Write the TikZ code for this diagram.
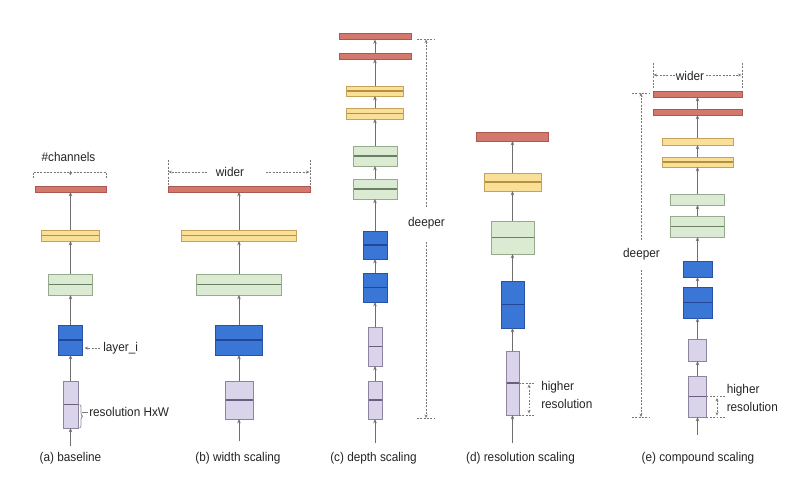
\documentclass[tikz,border=0pt]{standalone}
\usepackage{fontspec}
\setmainfont{Liberation Sans}[FakeStretch=0.93]
\usetikzlibrary{arrows.meta,fit,decorations.pathreplacing}

\definecolor{redF}{RGB}{210,120,108}
\definecolor{redD}{RGB}{172,88,78}
\definecolor{yelF}{RGB}{250,223,152}
\definecolor{yelD}{RGB}{196,162,92}
\definecolor{yelM}{RGB}{180,145,60}
\definecolor{grnF}{RGB}{218,234,211}
\definecolor{grnD}{RGB}{150,170,140}
\definecolor{grnM}{RGB}{105,128,98}
\definecolor{bluF}{RGB}{58,118,214}
\definecolor{bluD}{RGB}{40,82,168}
\definecolor{bluM}{RGB}{36,70,150}
\definecolor{lavF}{RGB}{218,212,234}
\definecolor{lavD}{RGB}{142,132,162}
\definecolor{lavM}{RGB}{105,96,128}
\definecolor{axisgray}{RGB}{110,110,110}
\definecolor{guidegray}{RGB}{120,120,120}
\definecolor{txt}{RGB}{35,35,35}

\tikzset{
  blk/.style={rectangle, inner sep=0pt, outer sep=0pt, line width=0.65pt},
  redbar/.style={blk, fill=redF, draw=redD},
  yelbar/.style={blk, fill=yelF, draw=yelD},
  grnbox/.style={blk, fill=grnF, draw=grnD},
  blubox/.style={blk, fill=bluF, draw=bluD},
  lavbox/.style={blk, fill=lavF, draw=lavD},
  halved/.style={path picture={\draw[#1, line width=0.9pt]
      (path picture bounding box.west) -- (path picture bounding box.east);}},
  conn/.style={draw=axisgray, line width=0.6pt, -{Stealth[length=3.2pt,width=2.6pt]}},
  guide/.style={draw=guidegray, line width=0.5pt, dash pattern=on 1.4pt off 1.1pt},
  gtip/.style={-{Stealth[length=2.6pt,width=2.2pt]}},
  gboth/.style={{Stealth[length=2.6pt,width=2.2pt]}-{Stealth[length=2.6pt,width=2.2pt]}},
  lbl/.style={font=\fontsize{9.5}{13.5}\selectfont, text=txt, inner sep=0pt},
}

% block: name, style, centre x, half width, top y, bottom y
\newcommand\bx[6]{\node[#2, fit={({#3-#4},#5) ({#3+#4},#6)}] (#1) {};}

\begin{document}
\begin{tikzpicture}[x=0.75pt,y=-0.75pt]
\useasboundingbox (0,0) rectangle (796,479);

%% (a) baseline
\bx{a5}{redbar}{70.5}{35.5}{186}{192}
\bx{a4}{yelbar,halved=yelM}{70.5}{29}{230}{241}
\bx{a3}{grnbox,halved=grnM}{70.5}{22}{274}{295}
\bx{a2}{blubox,halved=bluM}{70.5}{12}{325}{355}
\bx{a1}{lavbox,halved=lavM}{70.5}{7.5}{381}{428}
\coordinate (a0) at (70.5,446);
\draw[conn] (a0) -- (a1.south);
\draw[conn] (a1.north) -- (a2.south);
\draw[conn] (a2.north) -- (a3.south);
\draw[conn] (a3.north) -- (a4.south);
\draw[conn] (a4.north) -- (a5.south);

\node[lbl] (chan) at (68.5,157) {\#channels};
\draw[guide] (33,178) -- (33,172) -- (106,172) -- (106,178);
\coordinate (chanA) at (70.5,175);
\coordinate (chanB) at (70.5,170.5);
\draw[draw=guidegray, line width=0.5pt, gtip] (chanA) -- (chanB);

\node[lbl, anchor=west] (layeri) at (103,348) {layer\_i};
\draw[guide, gtip, shorten <=2pt, shorten >=1.5pt] (layeri.west) -- (a2.east |- layeri.west);

\draw[draw=lavD, line width=0.6pt, decorate, decoration={brace, amplitude=2.2pt}]
  ([xshift=1.2pt]a1.east) -- ([xshift=1.2pt]a1.south east);
\node[lbl, anchor=west] (resa) at (89,412) {resolution HxW};
\draw[draw=guidegray, line width=0.5pt] ([xshift=3.2pt]a1.east |- resa.west) -- ([xshift=-1pt]resa.west);

\node[lbl] (capa) at (70.5,458) {(a) baseline};

%% (b) width scaling
\bx{b5}{redbar}{239}{71}{186}{192}
\bx{b4}{yelbar,halved=yelM}{239}{57.5}{230}{241}
\bx{b3}{grnbox,halved=grnM}{239}{42.5}{274}{295}
\bx{b2}{blubox,halved=bluM}{239}{23.5}{325}{355}
\bx{b1}{lavbox,halved=lavM}{239}{14}{381}{419}
\coordinate (b0) at (239,441);
\draw[conn] (b0) -- (b1.south);
\draw[conn] (b1.north) -- (b2.south);
\draw[conn] (b2.north) -- (b3.south);
\draw[conn] (b3.north) -- (b4.south);
\draw[conn] (b4.north) -- (b5.south);

\node[lbl] (bwide) at (230,172) {wider};
\draw[guide] (168,160) -- (168,186);
\draw[guide] (310,160) -- (310,186);
\coordinate (bwL) at (168.5,172);
\coordinate (bwR) at (309.5,172);
\coordinate (bwl) at (207,172);
\coordinate (bwr) at (266,172);
\draw[guide, gtip] (bwl) -- (bwL);
\draw[guide, gtip] (bwr) -- (bwR);

\node[lbl] (capb) at (238,458) {(b) width scaling};

%% (c) depth scaling
\bx{c10}{redbar}{375}{36}{33.5}{39.5}
\bx{c9}{redbar}{375}{36}{53}{59}
\bx{c8}{yelbar,halved=yelM}{375}{28.5}{86}{96}
\bx{c7}{yelbar,halved=yelM}{375}{28.5}{108}{119}
\bx{c6}{grnbox,halved=grnM}{375}{22}{146}{166}
\bx{c5}{grnbox,halved=grnM}{375}{22}{179}{199}
\bx{c4}{blubox,halved=bluM}{375}{12}{231}{259}
\bx{c3}{blubox,halved=bluM}{375}{12}{273}{302}
\bx{c2}{lavbox,halved=lavM}{375}{7}{327}{366}
\bx{c1}{lavbox,halved=lavM}{375}{7}{381}{419}
\coordinate (c0) at (375,443);
\draw[conn] (c0) -- (c1.south);
\draw[conn] (c1.north) -- (c2.south);
\draw[conn] (c2.north) -- (c3.south);
\draw[conn] (c3.north) -- (c4.south);
\draw[conn] (c4.north) -- (c5.south);
\draw[conn] (c5.north) -- (c6.south);
\draw[conn] (c6.north) -- (c7.south);
\draw[conn] (c7.north) -- (c8.south);
\draw[conn] (c8.north) -- (c9.south);
\draw[conn] (c9.north) -- (c10.south);

\node[lbl] (cdeep) at (426.5,223) {deeper};
\coordinate (cT) at (426,39.5);
\coordinate (cB) at (426,418);
\coordinate (ct) at (426,207);
\coordinate (cb) at (426,242);
\draw[guide, gtip] (ct) -- (cT);
\draw[guide, gtip] (cb) -- (cB);
\draw[guide] (417,39.5) -- (434,39.5);
\draw[guide] (417,418) -- (434,418);

\node[lbl] (capc) at (373.5,458) {(c) depth scaling};

%% (d) resolution scaling
\bx{d5}{redbar}{512.5}{36}{132}{141}
\bx{d4}{yelbar,halved=yelM}{512.5}{28.5}{173}{191}
\bx{d3}{grnbox,halved=grnM}{512.5}{21.5}{221}{254}
\bx{d2}{blubox,halved=bluM}{512.5}{11.5}{281}{328}
\bx{d1}{lavbox,halved=lavM}{512.5}{6.5}{351}{415}
\coordinate (d0) at (512.5,443);
\draw[conn] (d0) -- (d1.south);
\draw[conn] (d1.north) -- (d2.south);
\draw[conn] (d2.north) -- (d3.south);
\draw[conn] (d3.north) -- (d4.south);
\draw[conn] (d4.north) -- (d5.south);

\coordinate (dhT) at (534,383);
\coordinate (dhB) at (534,415);
\draw[guide] (d1.east) -- (dhT);
\draw[guide] (d1.south east) -- (dhB);
\coordinate (dvT) at (529,384.5);
\coordinate (dvB) at (529,413.5);
\draw[guide, gboth] (dvT) -- (dvB);
\node[lbl, anchor=north west, align=left] (dres) at (541,381.5) {higher\\resolution};

\node[lbl] (capd) at (520.5,458) {(d) resolution scaling};

%% (e) compound scaling
\bx{e10}{redbar}{697.5}{44.5}{91}{97}
\bx{e9}{redbar}{697.5}{44.5}{109}{115}
\bx{e8}{yelbar}{697.5}{35.5}{138}{145}
\bx{e7}{yelbar,halved=yelM}{697.5}{35.5}{157}{167}
\bx{e6}{grnbox}{697.5}{27}{194}{205}
\bx{e5}{grnbox,halved=grnM}{697.5}{27}{216}{237}
\bx{e4}{blubox}{697.5}{14.5}{261}{277}
\bx{e3}{blubox,halved=bluM}{697.5}{14.5}{287}{318}
\bx{e2}{lavbox}{697.5}{9}{339}{361}
\bx{e1}{lavbox,halved=lavM}{697.5}{9}{376}{417}
\coordinate (e0) at (697.5,435);
\draw[conn] (e0) -- (e1.south);
\draw[conn] (e1.north) -- (e2.south);
\draw[conn] (e2.north) -- (e3.south);
\draw[conn] (e3.north) -- (e4.south);
\draw[conn] (e4.north) -- (e5.south);
\draw[conn] (e5.north) -- (e6.south);
\draw[conn] (e6.north) -- (e7.south);
\draw[conn] (e7.north) -- (e8.south);
\draw[conn] (e8.north) -- (e9.south);
\draw[conn] (e9.north) -- (e10.south);

\node[lbl] (ewide) at (690,76) {wider};
\draw[guide] (653,63) -- (653,89);
\draw[guide] (742,63) -- (742,89);
\coordinate (ewL) at (653.5,75);
\coordinate (ewR) at (741.5,75);
\coordinate (ewl) at (675,75);
\coordinate (ewr) at (706,75);
\draw[guide, gtip] (ewl) -- (ewL);
\draw[guide, gtip] (ewr) -- (ewR);

\node[lbl] (edeep) at (641.5,254) {deeper};
\coordinate (eT) at (641,93);
\coordinate (eB) at (641,417);
\coordinate (et) at (641,240);
\coordinate (eb) at (641,270);
\draw[guide, gtip] (et) -- (eT);
\draw[guide, gtip] (eb) -- (eB);
\draw[guide] (632,93) -- (650,93);
\draw[guide] (632,417) -- (650,417);

\coordinate (ehT) at (725,396.5);
\coordinate (ehB) at (725,417);
\draw[guide] (e1.east) -- (ehT);
\draw[guide] (e1.south east) -- (ehB);
\coordinate (evT) at (717,398);
\coordinate (evB) at (717,415.5);
\draw[guide, gboth] (evT) -- (evB);
\node[lbl, anchor=north west, align=left] (eres) at (726.5,384.5) {higher\\resolution};

\node[lbl] (cape) at (698,458) {(e) compound scaling};
\end{tikzpicture}
\end{document}
